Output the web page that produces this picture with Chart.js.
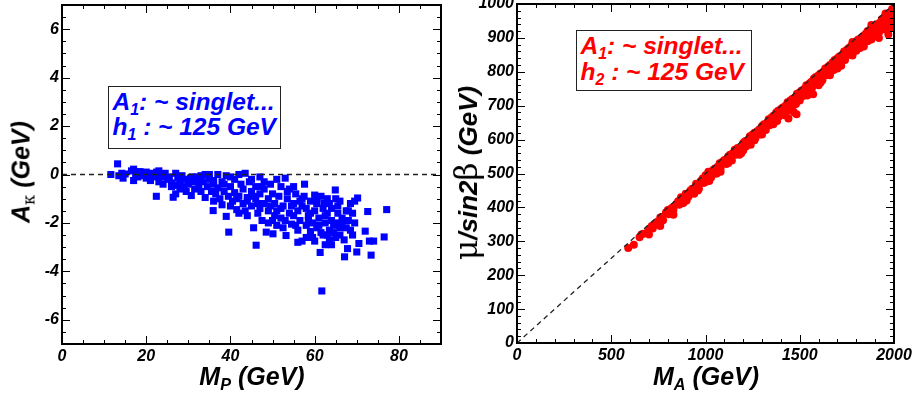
<!DOCTYPE html>
<html><head>
<meta charset="utf-8">
<title>A_kappa vs M_P and mu/sin2beta vs M_A</title>
<script src="https://cdn.jsdelivr.net/npm/chart.js@4"></script>
<style>
  body { margin:0; background:#fff; width:915px; height:402px; overflow:hidden; position:relative }
  canvas { position:absolute; top:0 }
  .t { position:absolute; font-family:"Liberation Sans", Arial, sans-serif; font-weight:bold; font-style:italic; white-space:nowrap; color:#000 }
  .t sub { font-size:65%; vertical-align:-0.3em; line-height:0 }
  .sym { font-style:normal; font-weight:normal; font-family:"DejaVu Serif", "Liberation Serif", serif }
  .box { border:1.5px solid #222; background:#fff; box-sizing:border-box }
  .rot { transform:translate(-50%,-50%) rotate(-90deg) }
</style>
</head><body>
<canvas id="left" width="455" height="402" style="left:0"></canvas>
<canvas id="right" width="460" height="402" style="left:455px"></canvas>

<div class="t box" style="left:108px;top:86px;width:173px;height:63px;font-size:24.5px;line-height:25px;padding:2px 0 0 3.5px;color:#0000ff">A<sub>1</sub>: ~ singlet...<br>h<sub>1</sub> : ~ 125 GeV</div>
<div class="t box" style="left:576px;top:30px;width:176px;height:61px;font-size:24.5px;line-height:26px;padding:1.5px 0 0 3.5px;color:#ff0000">A<sub>1</sub>: ~ singlet...<br>h<sub>2</sub> : ~ 125 GeV</div>

<div class="t" style="left:252px;top:364px;font-size:25px;line-height:25px;transform:translateX(-50%)">M<sub>P</sub> (GeV)</div>
<div class="t" style="left:706px;top:364px;font-size:25px;line-height:25px;transform:translateX(-50%)">M<sub>A</sub> (GeV)</div>
<div class="t rot" style="left:21px;top:172px;font-size:25px;line-height:25px">A<sub class="sym">κ</sub> (GeV)</div>
<div class="t rot" style="left:467px;top:173px;font-size:26px;line-height:26px"><span class="sym" style="font-size:1.2em">μ</span>/sin2<span class="sym" style="font-size:1.2em">β</span> (GeV)</div>

<script>
// left panel: A_kappa vs M_P (blue squares)
const leftPoints = [
  [11.6,0],[13.2,0.44],[13.5,-0.05],[14.2,0.05],[14.5,-0.15],[15,0.02],[16.5,0.15],[17,0.22],[17,-0.25],[17.5,0],
  [18,-0.1],[18.5,0.12],[19,-0.05],[19.5,0.05],[20,-0.15],[20.5,-0.05],[21,-0.25],[21.5,0.05],[22,-0.1],[22.4,-0.9],
  [22.5,0.1],[23,0.15],[23,-0.3],[23.5,-0.05],[24,-0.4],[24.5,0.05],[25,-0.2],[25.5,-0.1],[26,-0.35],[26.4,-0.94],
  [27,-0.8],[27,0.05],[27.5,-0.15],[28,-0.3],[28.5,-0.05],[29,-0.5],[29.5,-0.2],[30,-0.4],[30.5,-0.15],[30.7,-0.87],
  [31,-0.3],[31.5,-0.6],[32,-0.2],[32.5,-0.45],[33,-0.05],[33.5,-0.3],[34,-0.95],[34.5,-0.5],[35,-0.2],[35,0],
  [35.5,-0.7],[35.9,-1.49],[36,-0.4],[36.5,-0.8],[37,0],[37,-0.55],[37.5,-1.0],[38,-0.3],[38,-1.25],[38.5,-0.7],
  [39,-1.73],[39,-0.05],[39.5,-0.9],[39.6,-2.38],[40,-0.5],[40.5,-1.1],[41,-0.2],[41,-0.75],[41.5,-1.45],[42,0],
  [42,-0.9],[42.5,-0.4],[43,-1.2],[43,-0.6],[43.5,0.05],[44,-0.95],[44,-1.7],[44.5,-0.3],[45,-0.7],[45,-1.3],
  [45.5,-2.2],[46,-0.5],[46,-1.0],[46.1,-2.92],[46.5,-1.6],[47,-0.1],[47,-0.8],[47.5,-1.9],[48,-1.2],[48,-0.6],
  [48.5,-2.38],[49,-1.0],[49,-1.5],[49.5,-0.4],[50,-0.8],[50,-1.9],[50.1,-2.45],[50.5,-1.2],[51,-0.2],[51,-1.5],
  [51.5,-0.9],[52,-1.8],[52,-0.5],[52.5,-1.3],[53,-0.15],[53.2,-2.52],[53.5,-1.0],[54,-1.6],[54,-0.6],[54.5,-2.05],
  [55,-1.2],[55,-0.5],[55.5,-0.8],[56,-1.5],[56,-2.8],[56.5,-1.9],[57,-1.0],[57,-2.75],[57.6,-0.4],[58,-1.4],
  [58,-2.1],[58.5,-1.7],[59,-1.1],[59,-2.35],[59.5,-2.0],[60,-1.5],[60,-2.75],[60.5,-1.2],[60.5,-2.2],[61,-1.8],
  [61.3,-3.22],[61.5,-0.9],[61.7,-4.81],[62,-2.5],[62,-1.4],[62.5,-2.9],[62.5,-2.0],[63,-1.6],[63,-1.0],[63.5,-2.3],
  [63.5,-2.7],[64,-1.9],[64,-1.4],[64.5,-2.1],[64.9,-0.64],[65,-1.0],[65,-2.6],[65.5,-1.6],[66,-2.2],[66,-1.1],
  [66.5,-1.8],[67,-2.7],[67.1,-3.4],[67.5,-1.5],[67.8,-3.06],[68,-1.9],[68.5,-1.2],[68.5,-2.3],[69,-1.6],[69.5,-1.1],
  [69.5,-2.0],[70.2,-0.97],[70,-3.2],[70.5,-2.85],[72,-2.34],[72.6,-1.53],[73,-2.75],[73.4,-3.33],[74,-2.75],[76.5,-2.58],
  [77.1,-1.45],[33,-0.7],[36,-1.1],[40,-1.3],[42,-1.6],[44,-1.1],[47,-1.4],[49,-2.0],[51,-2.1],[53,-1.9],
  [55,-1.7],[57,-1.3],[59,-1.6],[61,-2.1],[63,-2.5],[65,-2.0],[66,-2.5],[64,-2.9],[58,-2.6],[56,-2.3],
  [52,-1.4],[48,-0.3],[45,-0.2],[40,-0.1],[36,-0.25],[32,-0.1],[28,-0.6],[26,-0.5],[34,0],[57.5,-0.9],
  [60,-0.85],[62.2,-1.2],[38.5,-0.4],[41.5,-1.0],[43.5,-1.5],[45.5,-0.9],[46.5,-1.2],[47.5,-0.5],[49.5,-1.3],[50.5,-1.7],
  [52.5,-2.2],[53.5,-0.7],[54.5,-1.3],[55.5,-2.1],[56.5,-1.1],[58.5,-1.9],[59.5,-2.6],[61.5,-2.4],[62.5,-1.7],[63.5,-1.2],
  [64.5,-2.4],[65.5,-1.3],[66.5,-2.0],[67.5,-2.2],[68,-1.5],[69,-2.5],[60.5,-1.0],[27.5,-0.45],[29.5,-0.7],[31,-0.1],
  [24,-0.1],[20,0.1]
];
// right panel: mu/sin2beta vs M_A (red circles)
const rightPoints = [
  [590,280],[620,290],[650,312],[660,320],[670,322],[690,325],[700,335],[715,345],[720,338],[730,350],
  [745,358],[750,348],[760,370],[770,372],[775,362],[790,385],[800,392],[805,380],[815,395],[825,400],
  [830,392],[845,410],[855,418],[860,408],[870,430],[880,425],[885,415],[895,440],[905,440],[910,432],
  [920,450],[930,455],[940,448],[950,470],[960,465],[965,455],[975,478],[985,485],[990,472],[1000,495],
  [1010,490],[1015,505],[1025,500],[1030,488],[1040,510],[1050,515],[1055,500],[1065,520],[1075,530],[1080,515],
  [1090,535],[1100,540],[1110,528],[1120,550],[1130,555],[1135,540],[1145,560],[1155,570],[1160,555],[1170,575],
  [1180,572],[1190,560],[1200,590],[1210,595],[1215,580],[1225,598],[1235,610],[1240,595],[1250,615],[1260,620],
  [1265,605],[1275,625],[1285,630],[1290,615],[1300,640],[1310,645],[1315,630],[1325,648],[1335,660],[1340,642],
  [1350,665],[1360,670],[1365,655],[1375,680],[1385,685],[1390,668],[1400,690],[1410,695],[1415,675],[1425,700],
  [1435,710],[1440,690],[1450,715],[1460,720],[1465,700],[1470,680],[1475,725],[1485,735],[1490,715],[1500,740],
  [1510,745],[1515,728],[1525,750],[1535,760],[1540,740],[1550,765],[1560,770],[1565,752],[1575,780],[1585,785],
  [1590,765],[1600,790],[1610,795],[1615,775],[1625,800],[1635,810],[1640,790],[1650,815],[1660,820],[1665,800],
  [1675,828],[1685,835],[1690,815],[1700,840],[1710,845],[1715,825],[1725,850],[1735,860],[1740,840],[1750,865],
  [1760,870],[1765,850],[1775,878],[1785,885],[1790,862],[1800,890],[1810,895],[1815,875],[1825,900],[1835,905],
  [1840,885],[1850,912],[1860,920],[1865,898],[1875,925],[1885,930],[1890,910],[1900,935],[1910,940],[1915,920],
  [1925,945],[1935,955],[1940,935],[1950,960],[1960,965],[1965,945],[1970,910],[1975,970],[1985,975],[1990,955],
  [1995,940],[1998,960],[1483,675],[1571,734],
  [700,320],[760,352],[820,385],[880,412],[940,440],[1000,475],[1060,500],[1120,530],[1180,555],[1240,585],
  [1300,615],[1360,645],[1420,672],[1480,705],[1540,730],[1600,760],[1660,790],[1720,818],[1780,848],[1840,875],
  [1900,905],[1950,925],[1920,900],[1980,930],
  [760,345],[830,378],[900,420],[960,450],[1020,478],[1080,505],[1140,538],[1200,568],[1260,598],[1320,628],
  [1380,655],[1440,685],[1500,715],[1560,745],[1620,775],[1680,805],[1740,835],[1800,862],[1860,890],[1920,915],
  [1975,935],[1440,662],[1610,768],[1700,810],[1820,870],[1880,895],[1990,985],[1955,972],[1880,938],[1780,888]
];
// reference dashed lines
const leftRefLine = [[0,0],[90,0]];
const rightRefLine = [[0,0],[2000,1000]];

const leftXTicks = [0,20,40,60,80];
const leftYTicks = [-6,-4,-2,0,2,4,6];
const rightXTicks = [0,500,1000,1500,2000];
const rightYTicks = [0,100,200,300,400,500,600,700,800,900,1000];

const tickFont = { family:'"Liberation Sans", Arial, sans-serif', size:16, style:'italic', weight:'bold' };

// ROOT style frame with inward ticks on all four sides
const frameTicks = {
  id: 'frameTicks',
  afterDatasetsDraw(chart, args, o) {
    const { ctx, chartArea: { left, right, top, bottom }, scales: { x, y } } = chart;
    const seg = (x1, y1, x2, y2) => { ctx.beginPath(); ctx.moveTo(x1, y1); ctx.lineTo(x2, y2); ctx.stroke(); };
    const isMajor = (v, m) => Math.abs(v / m - Math.round(v / m)) < 1e-6;
    ctx.save();
    ctx.strokeStyle = '#000';
    ctx.lineWidth = 1;
    for (let v = x.min; v <= x.max + 1e-9; v += o.xMinor) {
      const px = Math.round(x.getPixelForValue(v)) + 0.5;
      const len = isMajor(v, o.xMajor) ? 8 : 4;
      seg(px, bottom, px, bottom - len);
      seg(px, top, px, top + len);
    }
    for (let v = y.min; v <= y.max + 1e-9; v += o.yMinor) {
      const py = Math.round(y.getPixelForValue(v)) + 0.5;
      const len = isMajor(v, o.yMajor) ? 8 : 4;
      seg(left, py, left + len, py);
      seg(right, py, right - len, py);
    }
    ctx.lineWidth = 2;
    ctx.strokeRect(left, top, right - left, bottom - top);
    ctx.restore();
  }
};

function makeScale(min, max, ticks, fitW, fitH) {
  return {
    type: 'linear', min, max,
    grid: { display: false, drawTicks: false },
    border: { display: false },
    afterBuildTicks: s => { s.ticks = ticks.map(v => ({ value: v })); },
    afterFit: s => {
      if (fitW) s.width = fitW;
      if (fitH) s.height = fitH;
      s.paddingTop = 0; s.paddingBottom = 0; s.paddingLeft = 0; s.paddingRight = 0;
    },
    ticks: { font: tickFont, color: '#000', padding: 3, maxRotation: 0, autoSkip: false, callback: v => String(v) }
  };
}

function makeChart(id, pts, refLine, color, style, radius, sc, pad, ticks) {
  return new Chart(document.getElementById(id), {
    type: 'scatter',
    data: {
      datasets: [
        { type: 'line', data: refLine.map(p => ({ x: p[0], y: p[1] })), borderColor: '#222', borderWidth: 1.3,
          borderDash: [5, 4], pointRadius: 0, fill: false, order: 0 },
        { data: pts.map(p => ({ x: p[0], y: p[1] })), backgroundColor: color, borderWidth: 0,
          pointStyle: style, pointRadius: radius, pointHoverRadius: radius, order: 1 }
      ]
    },
    options: {
      responsive: false, animation: false, devicePixelRatio: 1,
      layout: { padding: pad },
      plugins: { legend: { display: false }, tooltip: { enabled: false }, frameTicks: ticks },
      scales: { x: sc.x, y: sc.y }
    },
    plugins: [frameTicks]
  });
}

makeChart('left', leftPoints, leftRefLine, '#0000ff', 'rect', 5,
  { x: makeScale(0, 90, leftXTicks, null, 58), y: makeScale(-7, 7, leftYTicks, 62, null) },
  { top: 3, right: 14, bottom: 0, left: 0 },
  { xMinor: 5, xMajor: 20, yMinor: 0.5, yMajor: 2 });

makeChart('right', rightPoints, rightRefLine, '#ff0000', 'circle', 4,
  { x: makeScale(0, 2000, rightXTicks, null, 59), y: makeScale(0, 1000, rightYTicks, 62, null) },
  { top: 3, right: 21, bottom: 0, left: 0 },
  { xMinor: 100, xMajor: 500, yMinor: 20, yMajor: 100 });
</script>
</body></html>
